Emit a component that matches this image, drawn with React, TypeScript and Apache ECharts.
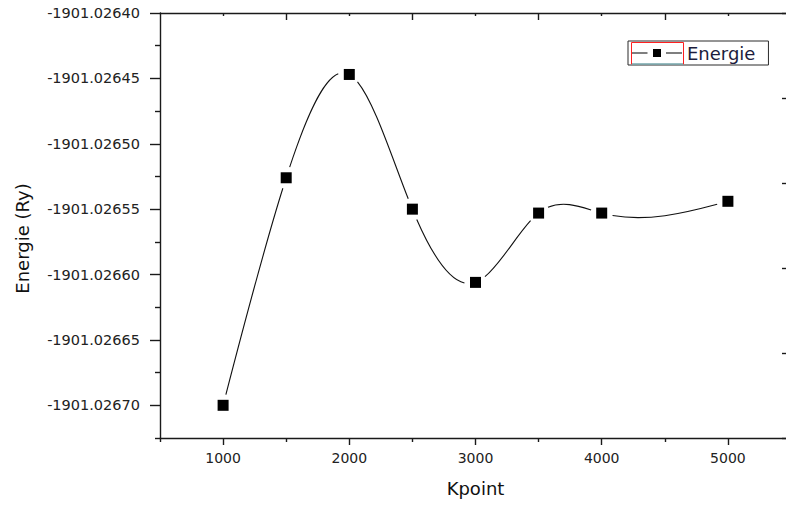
import { useEffect, useRef } from "react";
import * as echarts from "echarts";

// k-point sampling vs. total energy
const kpoints = [1000, 1500, 2000, 2500, 3000, 3500, 4000, 5000];
const energies = [
  -1901.0267, -1901.026526, -1901.026447, -1901.02655, -1901.026606, -1901.026553,
  -1901.026553, -1901.026544,
];

const xRange = [500, 5500];
const yRange = [-1901.026725, -1901.0264];
const xMajorTicks = [1000, 2000, 3000, 4000, 5000];
const xMinorTicks = [500, 1500, 2500, 3500, 4500, 5500];
const topMajorTicks = [1500, 2500, 3500, 4500];
const topMinorTicks = [1000, 2000, 3000, 4000, 5000];
const yMajorTicks = [
  -1901.0267, -1901.02665, -1901.0266, -1901.02655, -1901.0265, -1901.02645, -1901.0264,
];
const yMinorTicks = [
  -1901.026725, -1901.026675, -1901.026625, -1901.026575, -1901.026525, -1901.026475,
  -1901.026425,
];

const FONT = "DejaVu Sans";
const INK = "#1a1a1a";
const GAP = 11; // clearance of the curve around each marker, px

type Pt = number[];

// Natural cubic spline through the points, returned as cubic Bezier segments
function splineSegments(xs: number[], ys: number[]) {
  const n = xs.length;
  const base = ys[0];
  const y = ys.map((v) => v - base);
  const h: number[] = [];
  for (let i = 0; i < n - 1; i++) h.push(xs[i + 1] - xs[i]);
  const M = new Array(n).fill(0);
  const m = n - 2;
  if (m > 0) {
    const a: number[] = [], b: number[] = [], c: number[] = [], d: number[] = [];
    for (let i = 1; i <= m; i++) {
      a.push(h[i - 1]);
      b.push(2 * (h[i - 1] + h[i]));
      c.push(h[i]);
      d.push(6 * ((y[i + 1] - y[i]) / h[i] - (y[i] - y[i - 1]) / h[i - 1]));
    }
    for (let i = 1; i < m; i++) {
      const w = a[i] / b[i - 1];
      b[i] -= w * c[i - 1];
      d[i] -= w * d[i - 1];
    }
    const sol = new Array(m).fill(0);
    sol[m - 1] = d[m - 1] / b[m - 1];
    for (let i = m - 2; i >= 0; i--) sol[i] = (d[i] - c[i] * sol[i + 1]) / b[i];
    for (let i = 0; i < m; i++) M[i + 1] = sol[i];
  }
  const segs: Pt[][] = [];
  for (let i = 0; i < n - 1; i++) {
    const hi = h[i];
    const slope = (y[i + 1] - y[i]) / hi;
    const d0 = slope - (hi * (2 * M[i] + M[i + 1])) / 6;
    const d1 = slope + (hi * (M[i] + 2 * M[i + 1])) / 6;
    segs.push([
      [xs[i], ys[i]],
      [xs[i] + hi / 3, base + y[i] + (d0 * hi) / 3],
      [xs[i + 1] - hi / 3, base + y[i + 1] - (d1 * hi) / 3],
      [xs[i + 1], ys[i + 1]],
    ]);
  }
  return segs;
}

const lerp = (a: Pt, b: Pt, t: number): Pt => [a[0] + (b[0] - a[0]) * t, a[1] + (b[1] - a[1]) * t];

function bezAt(c: Pt[], t: number): Pt {
  const a = lerp(c[0], c[1], t), b = lerp(c[1], c[2], t), d = lerp(c[2], c[3], t);
  return lerp(lerp(a, b, t), lerp(b, d, t), t);
}

// part of a cubic Bezier between parameters t0 and t1 (de Casteljau)
function subCurve(c: Pt[], t0: number, t1: number): Pt[] {
  const splitLeft = (q: Pt[], t: number): Pt[] => {
    const a = lerp(q[0], q[1], t), b = lerp(q[1], q[2], t), d = lerp(q[2], q[3], t);
    const e = lerp(a, b, t), f = lerp(b, d, t);
    return [q[0], a, e, lerp(e, f, t)];
  };
  const splitRight = (q: Pt[], t: number): Pt[] => {
    const a = lerp(q[0], q[1], t), b = lerp(q[1], q[2], t), d = lerp(q[2], q[3], t);
    const e = lerp(a, b, t), f = lerp(b, d, t);
    return [lerp(e, f, t), f, d, q[3]];
  };
  const left = splitLeft(c, t1);
  return splitRight(left, t0 / t1);
}

function trimT(c: Pt[], r: number, fromEnd: boolean): number {
  const anchor = fromEnd ? c[3] : c[0];
  for (let k = 1; k <= 1000; k++) {
    const t = fromEnd ? 1 - k / 1000 : k / 1000;
    const p = bezAt(c, t);
    if (Math.hypot(p[0] - anchor[0], p[1] - anchor[1]) >= r) return t;
  }
  return fromEnd ? 0 : 1;
}

export default function App() {
  const ref = useRef<HTMLDivElement>(null);

  useEffect(() => {
    if (!ref.current) return;
    const chart = echarts.init(ref.current, undefined, { renderer: "svg" });
    const points = kpoints.map((k, i) => [k, energies[i]]);
    const segs = splineSegments(kpoints, energies);

    const hiddenAxis = {
      splitLine: { show: false },
      axisLabel: { show: false },
    };

    chart.setOption({
      animation: false,
      backgroundColor: "#fff",
      textStyle: { fontFamily: FONT },
      grid: { left: 160, top: 13, right: 9, bottom: 69, containLabel: false },
      xAxis: [
        {
          type: "value",
          position: "bottom",
          min: xRange[0],
          max: xRange[1],
          name: "Kpoint",
          nameLocation: "middle",
          nameGap: 41,
          nameTextStyle: { fontFamily: FONT, fontSize: 18, color: "#111" },
          axisLine: { show: true, lineStyle: { color: INK, width: 1.4 } },
          axisTick: {
            show: true,
            inside: false,
            length: 7,
            customValues: xMajorTicks,
            lineStyle: { color: INK, width: 1.4 },
          },
          axisLabel: {
            show: true,
            customValues: xMajorTicks,
            margin: 13,
            fontFamily: FONT,
            fontSize: 14,
            color: "#222",
            formatter: (v: number) => String(v),
          },
          splitLine: { show: false },
        },
        {
          type: "value",
          position: "bottom",
          min: xRange[0],
          max: xRange[1],
          axisLine: { show: false },
          axisTick: {
            show: true,
            inside: false,
            length: 4,
            customValues: xMinorTicks,
            lineStyle: { color: INK, width: 1.4 },
          },
          ...hiddenAxis,
        },
        {
          type: "value",
          position: "top",
          min: xRange[0],
          max: xRange[1],
          axisLine: { show: true, lineStyle: { color: INK, width: 1.4 } },
          axisTick: {
            show: true,
            inside: true,
            length: 7,
            customValues: topMajorTicks,
            lineStyle: { color: INK, width: 1.4 },
          },
          ...hiddenAxis,
        },
        {
          type: "value",
          position: "top",
          min: xRange[0],
          max: xRange[1],
          axisLine: { show: false },
          axisTick: {
            show: true,
            inside: true,
            length: 3,
            customValues: topMinorTicks,
            lineStyle: { color: INK, width: 1.4 },
          },
          ...hiddenAxis,
        },
      ],
      yAxis: [
        {
          type: "value",
          position: "left",
          min: yRange[0],
          max: yRange[1],
          name: "Energie (Ry)",
          nameLocation: "middle",
          nameGap: 129,
          nameTextStyle: {
            fontFamily: FONT,
            fontSize: 18,
            color: "#111",
            padding: [0, 26, 0, 0],
          },
          axisLine: { show: true, lineStyle: { color: INK, width: 1.4 } },
          axisTick: {
            show: true,
            inside: false,
            length: 10,
            customValues: yMajorTicks,
            lineStyle: { color: INK, width: 1.4 },
          },
          axisLabel: {
            show: true,
            customValues: yMajorTicks,
            margin: 20,
            fontFamily: FONT,
            fontSize: 14.5,
            color: "#222",
            formatter: (v: number) => v.toFixed(5),
          },
          splitLine: { show: false },
        },
        {
          type: "value",
          position: "left",
          min: yRange[0],
          max: yRange[1],
          axisLine: { show: false },
          axisTick: {
            show: true,
            inside: false,
            length: 5,
            customValues: yMinorTicks,
            lineStyle: { color: INK, width: 1.4 },
          },
          ...hiddenAxis,
        },
        {
          type: "value",
          position: "right",
          min: 0,
          max: 5,
          interval: 1,
          axisLine: { show: true, lineStyle: { color: INK, width: 1.4 } },
          axisTick: { show: true, inside: true, length: 9, lineStyle: { color: INK, width: 1.4 } },
          ...hiddenAxis,
        },
      ],
      legend: {
        data: [
          {
            name: "Energie",
            icon: "path://M0,3.5H15.5V4.5H0Z M21,0H29V8H21Z M34,3.5H50V4.5H34Z",
            itemStyle: { color: "#000", opacity: 1 },
          },
        ],
        left: 628,
        top: 41,
        itemWidth: 50,
        itemHeight: 8,
        padding: [3, 13, 3, 4],
        borderColor: "#2a2a2a",
        borderWidth: 1,
        backgroundColor: "#fff",
        selectedMode: false,
        textStyle: { fontFamily: FONT, fontSize: 18, color: "#1c1c3c" },
      },
      graphic: [
        {
          type: "rect",
          z: 100,
          shape: { x: 631.5, y: 42.5, width: 52, height: 21.5 },
          style: { fill: "none", stroke: "#ff2020", lineWidth: 1 },
          silent: true,
        },
        {
          type: "line",
          z: 101,
          shape: { x1: 632, y1: 64, x2: 683, y2: 64 },
          style: { stroke: "#30e8f0", lineWidth: 1.2 },
          silent: true,
        },
      ],
      series: [
        {
          // spline through the points, stopping short of each marker
          name: "spline",
          type: "custom",
          xAxisIndex: 0,
          yAxisIndex: 0,
          z: 2,
          silent: true,
          data: points,
          renderItem: (params: any, api: any) => {
            if (params.dataIndex !== 0) return null;
            let d = "";
            for (const s of segs) {
              const px = s.map((p) => api.coord(p) as Pt);
              const t0 = trimT(px, GAP, false);
              const t1 = trimT(px, GAP, true);
              if (t1 <= t0) continue;
              const c = subCurve(px, t0, t1);
              d += `M${c[0][0]},${c[0][1]} C${c[1][0]},${c[1][1]} ${c[2][0]},${c[2][1]} ${c[3][0]},${c[3][1]} `;
            }
            return {
              type: "path",
              shape: { pathData: d },
              style: { fill: "none", stroke: "#111", lineWidth: 1.1 },
            };
          },
        },
        {
          name: "Energie",
          type: "scatter",
          xAxisIndex: 0,
          yAxisIndex: 0,
          z: 10,
          symbol: "rect",
          symbolSize: 11,
          itemStyle: { color: "#000", opacity: 1 },
          data: points,
        },
      ],
    });

    return () => chart.dispose();
  }, []);

  return (
    <div
      style={{
        position: "fixed",
        left: 0,
        top: 0,
        width: 786,
        height: 507,
        overflow: "hidden",
        background: "#fff",
      }}
    >
      <div ref={ref} style={{ width: 800, height: 507 }} />
    </div>
  );
}
